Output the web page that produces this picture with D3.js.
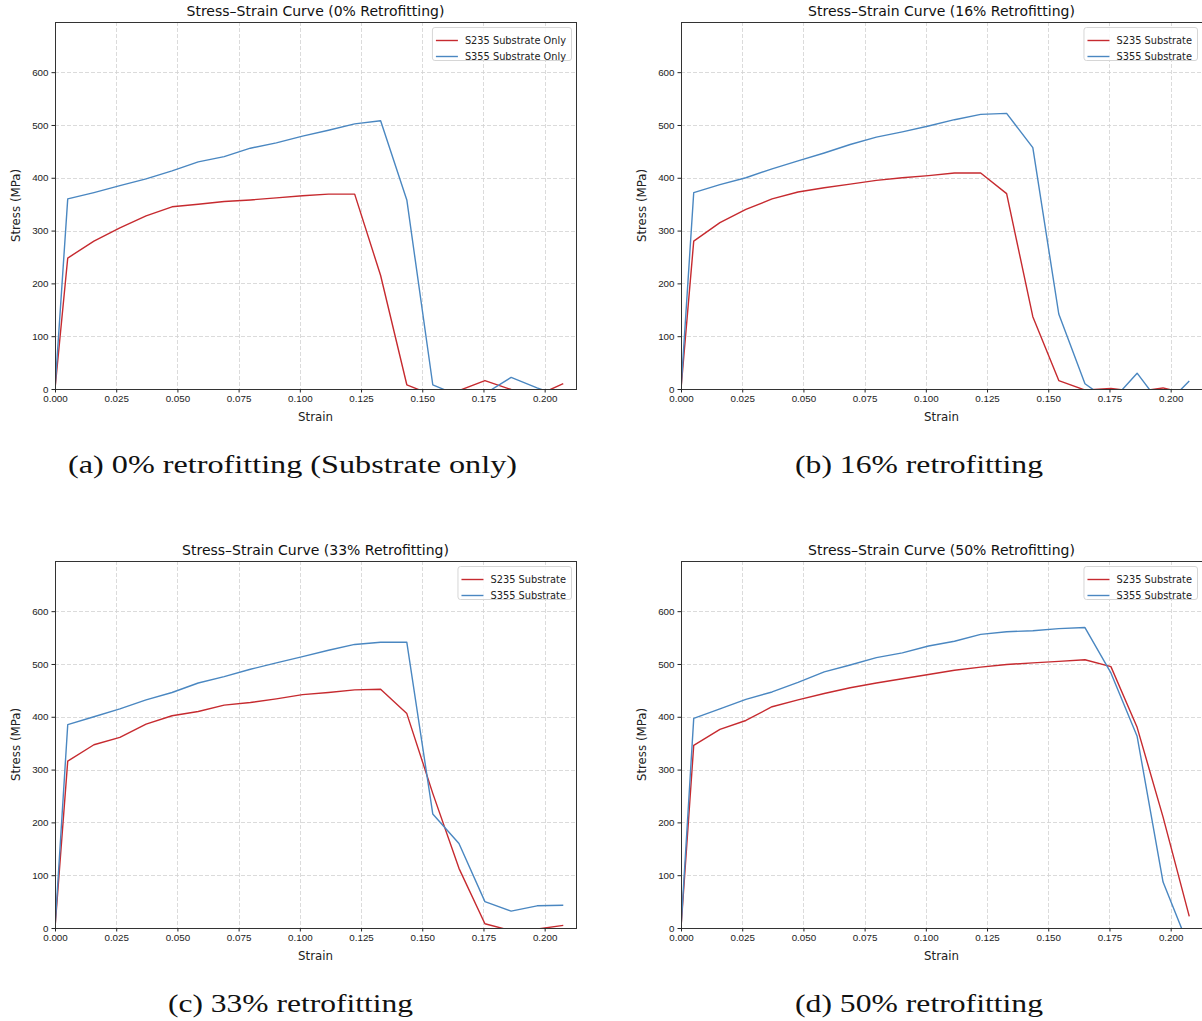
<!DOCTYPE html>
<html>
<head>
<meta charset="utf-8">
<script src="https://cdn.jsdelivr.net/npm/d3@7"></script>
<style>
  body { margin: 0; background: #fff; }
  svg { display: block; font-family: "DejaVu Sans", sans-serif; }
  .axis text { font-size: 9.8px; fill: #222; }
  .axis path, .axis line { stroke: #262626; }
  .grid line { stroke: #d2d2d2; stroke-dasharray: 4,2; stroke-width: 0.8; }
  .caption { font-family: "Liberation Serif", serif; font-size: 26px; fill: #111; }
</style>
</head>
<body>
<div id="chart"></div>
<script>
// strain points shared by every curve
const strain = [0, 0.0052, 0.0159, 0.0265, 0.0372, 0.0478, 0.0585, 0.0691, 0.0798, 0.0904, 0.1011,
  0.1117, 0.1224, 0.1330, 0.1437, 0.1543, 0.1650, 0.1756, 0.1863, 0.1969, 0.2076];

// stress (MPa)
const s235_0 = [0, 248, 280, 305, 328, 345, 350, 355, 358, 362, 366, 369, 369, 215, 8, -12, -3, 16, -1, -12, 10];
const s355_0 = [0, 360, 372, 385, 398, 413, 430, 440, 456, 466, 479, 490, 502, 508, 358, 8, -13, -9, 22, 2, -15];
const s235_16 = [0, 280, 315, 340, 360, 373, 381, 388, 395, 400, 404, 409, 409, 370, 137, 16, -2, 1, -5, 2, -10];
const s355_16 = [0, 372, 387, 400, 417, 432, 447, 463, 477, 487, 498, 510, 520, 522, 457, 142, 10, -25, 30, -35, 15];
const s235_33 = [0, 316, 347, 361, 386, 402, 410, 422, 427, 434, 442, 446, 451, 452, 406, 255, 113, 8, -5, -2, 5];
const s355_33 = [0, 385, 400, 415, 432, 446, 464, 476, 490, 502, 514, 526, 537, 541, 541, 216, 160, 50, 32, 42, 43];
const s235_50 = [0, 346, 376, 393, 419, 432, 444, 455, 464, 472, 480, 488, 494, 499, 502, 505, 508, 495, 380, 210, 22];
const s355_50 = [0, 397, 415, 433, 447, 465, 485, 498, 512, 521, 534, 543, 556, 561, 563, 567, 569, 483, 363, 87, -37];

const titles = [
  "Stress\u2013Strain Curve (0% Retrofitting)",
  "Stress\u2013Strain Curve (16% Retrofitting)",
  "Stress\u2013Strain Curve (33% Retrofitting)",
  "Stress\u2013Strain Curve (50% Retrofitting)"
];
const captions = [
  "(a) 0% retrofitting (Substrate only)",
  "(b) 16% retrofitting",
  "(c) 33% retrofitting",
  "(d) 50% retrofitting"
];
const legendNames = [
  ["S235 Substrate Only", "S355 Substrate Only"],
  ["S235 Substrate", "S355 Substrate"],
  ["S235 Substrate", "S355 Substrate"],
  ["S235 Substrate", "S355 Substrate"]
];
const seriesByPanel = [[s235_0, s355_0], [s235_16, s355_16], [s235_33, s355_33], [s235_50, s355_50]];

const xTicks = [0, 0.025, 0.05, 0.075, 0.1, 0.125, 0.15, 0.175, 0.2];
const yTicks = [0, 100, 200, 300, 400, 500, 600];
const xMax = 0.2128;
const yMax = 695;

const colors = ["#c62a2f", "#4a87c1"];

// layout
const totalW = 1202, totalH = 1021;
const panelPos = [{ x: 55, y: 22 }, { x: 681, y: 22 }, { x: 55, y: 561 }, { x: 681, y: 561 }];
const plotW = 521, plotH = 367;
// caption placement (serif, stretched to the width of the LaTeX caption)
const captionBox = [{ cx: 292.5, w: 449 }, { cx: 919, w: 248 }, { cx: 290.5, w: 245 }, { cx: 919, w: 248 }];

const svg = d3.select("#chart")
  .append("svg")
  .attr("width", totalW)
  .attr("height", totalH);

const x = d3.scaleLinear().domain([0, xMax]).range([0, plotW]);
const y = d3.scaleLinear().domain([0, yMax]).range([plotH, 0]);

const line = d3.line()
  .x((d, i) => x(strain[i]))
  .y((d) => y(d));

panelPos.forEach((p, k) => {
  const g = svg.append("g").attr("transform", `translate(${p.x},${p.y})`);

  g.append("clipPath")
    .attr("id", "clip" + k)
    .append("rect")
    .attr("width", plotW)
    .attr("height", plotH);

  // grid
  g.append("g")
    .attr("class", "grid")
    .selectAll("line")
    .data(xTicks)
    .join("line")
    .attr("x1", (d) => Math.round(x(d)) + 0.5)
    .attr("x2", (d) => Math.round(x(d)) + 0.5)
    .attr("y1", 0)
    .attr("y2", plotH);

  g.append("g")
    .attr("class", "grid")
    .selectAll("line")
    .data(yTicks)
    .join("line")
    .attr("x1", 0)
    .attr("x2", plotW)
    .attr("y1", (d) => Math.round(y(d)) + 0.5)
    .attr("y2", (d) => Math.round(y(d)) + 0.5);

  // curves
  const curves = g.append("g").attr("clip-path", `url(#clip${k})`);
  seriesByPanel[k].forEach((s, j) => {
    curves.append("path")
      .datum(s)
      .attr("fill", "none")
      .attr("stroke", colors[j])
      .attr("stroke-width", 1.4)
      .attr("stroke-linejoin", "round")
      .attr("d", line);
  });

  // frame
  g.append("rect")
    .attr("x", 0.5)
    .attr("y", 0.5)
    .attr("width", plotW)
    .attr("height", plotH)
    .attr("fill", "none")
    .attr("stroke", "#333")
    .attr("stroke-width", 1);

  // axes
  g.append("g")
    .attr("class", "axis")
    .attr("transform", `translate(0,${plotH})`)
    .call(d3.axisBottom(x).tickValues(xTicks).tickFormat(d3.format(".3f")).tickSizeInner(3.5).tickSizeOuter(0).tickPadding(3))
    .call((a) => a.select(".domain").remove());

  g.append("g")
    .attr("class", "axis")
    .call(d3.axisLeft(y).tickValues(yTicks).tickFormat(d3.format("d")).tickSizeInner(3.5).tickSizeOuter(0).tickPadding(3))
    .call((a) => a.select(".domain").remove());

  // title and labels
  g.append("text")
    .attr("x", plotW / 2)
    .attr("y", -6.5)
    .attr("text-anchor", "middle")
    .attr("font-size", "14px")
    .attr("fill", "#111")
    .text(titles[k]);

  g.append("text")
    .attr("x", plotW / 2)
    .attr("y", plotH + 32)
    .attr("text-anchor", "middle")
    .attr("font-size", "11.8px")
    .attr("fill", "#222")
    .text("Strain");

  g.append("text")
    .attr("transform", `translate(-35,${plotH / 2}) rotate(-90)`)
    .attr("text-anchor", "middle")
    .attr("font-size", "11.8px")
    .attr("fill", "#222")
    .text("Stress (MPa)");

  // legend
  const leg = g.append("g");
  const box = leg.append("rect")
    .attr("fill", "#fff")
    .attr("fill-opacity", 0.85)
    .attr("stroke", "#d6d6d6")
    .attr("rx", 2.5);
  const items = leg.selectAll("g.item")
    .data(legendNames[k])
    .join("g")
    .attr("transform", (d, i) => `translate(0,${13.5 + i * 16})`);
  items.append("line")
    .attr("x1", 4)
    .attr("x2", 26)
    .attr("stroke", (d, i) => colors[i])
    .attr("stroke-width", 1.4);
  items.append("text")
    .attr("x", 33)
    .attr("dy", "0.35em")
    .attr("font-size", "9.8px")
    .attr("fill", "#222")
    .text((d) => d);
  let textW = 0;
  items.selectAll("text").each(function () { textW = Math.max(textW, this.getComputedTextLength()); });
  const boxW = 33 + textW + 5;
  box.attr("x", 0.5).attr("y", 0.5).attr("width", boxW).attr("height", 33);
  leg.attr("transform", `translate(${plotW - 5 - boxW},${5})`);

  // caption below panel
  svg.append("text")
    .attr("class", "caption")
    .attr("x", captionBox[k].cx)
    .attr("y", p.y + 451)
    .attr("text-anchor", "middle")
    .attr("textLength", captionBox[k].w)
    .attr("lengthAdjust", "spacingAndGlyphs")
    .text(captions[k]);
});
</script>
</body>
</html>
